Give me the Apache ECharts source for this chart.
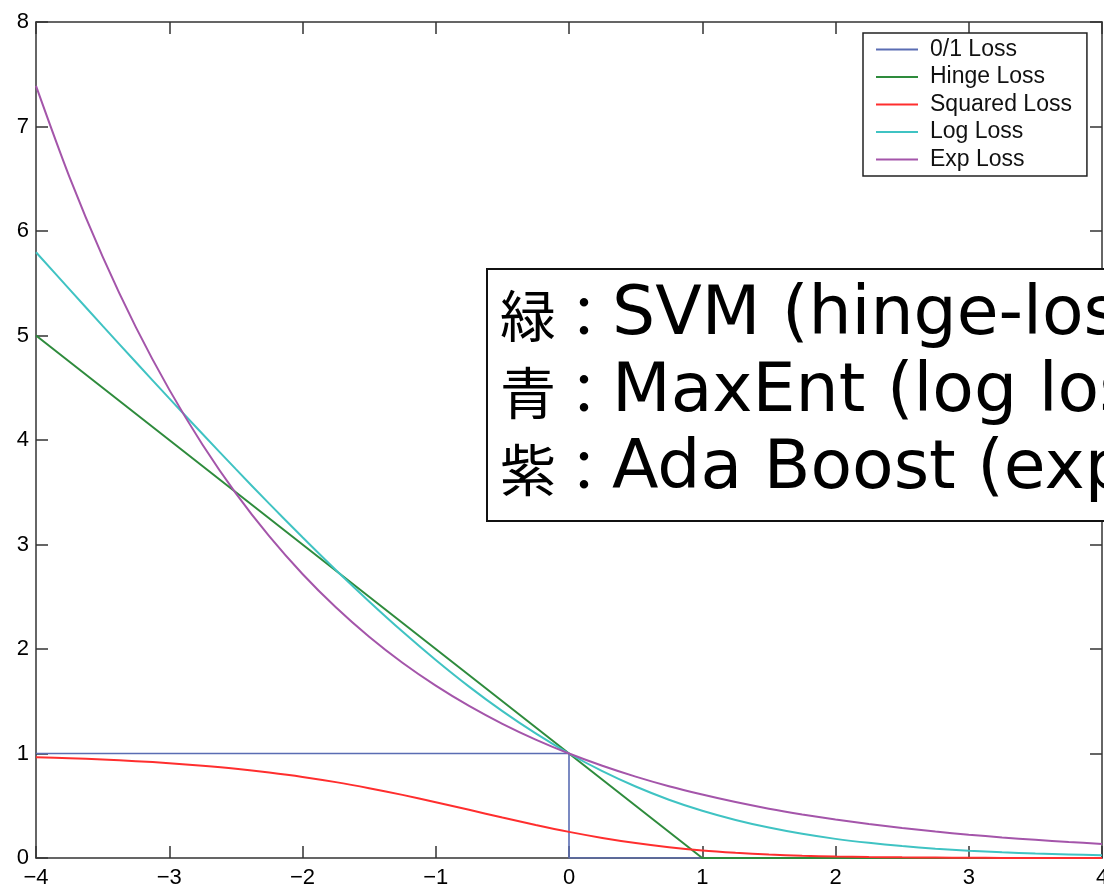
<!DOCTYPE html>
<html>
<head>
<meta charset="utf-8">
<script src="https://cdn.jsdelivr.net/npm/echarts@6/dist/echarts.min.js"></script>
<style>
html,body{margin:0;padding:0;background:#fff;overflow:hidden;}
#c{width:1104px;height:887px;}
</style>
</head>
<body>
<div id="c"></div>
<script>
// ---- data ----
const xs = [-4,-3.75,-3.5,-3.25,-3,-2.75,-2.5,-2.25,-2,-1.75,-1.5,-1.25,-1,-0.75,-0.5,-0.25,0,
            0.25,0.5,0.75,1,1.25,1.5,1.75,2,2.25,2.5,2.75,3,3.25,3.5,3.75,4];
const zeroOneX = [-4, 0, 0, 4];
const zeroOneY = [1, 1, 0, 0];
const hingeX = [-4, 1, 4];
const hingeY = [5, 0, 0];
const squaredY = [0.964,0.955,0.942,0.927,0.907,0.883,0.854,0.818,0.776,0.726,0.668,0.604,0.534,0.461,0.387,0.316,0.25,
                  0.192,0.143,0.103,0.072,0.050,0.033,0.022,0.014,0.009,0.006,0.004,0.002,0.001,0.001,0.001,0.000];
const logY = [5.797,5.444,5.092,4.744,4.398,4.057,3.721,3.391,3.069,2.756,2.455,2.167,1.895,1.640,1.405,1.192,1.0,
              0.831,0.684,0.558,0.452,0.364,0.291,0.231,0.183,0.145,0.114,0.089,0.070,0.055,0.043,0.034,0.026];
const expY = [7.389,6.521,5.755,5.078,4.482,3.955,3.490,3.080,2.718,2.399,2.117,1.868,1.649,1.455,1.284,1.133,1.0,
              0.883,0.779,0.687,0.607,0.535,0.472,0.417,0.368,0.325,0.287,0.253,0.223,0.197,0.174,0.153,0.135];
const xTicks = {min: -4, max: 4, interval: 1};
const yTicks = {min: 0, max: 8, interval: 1};
const seriesNames = ['0/1 Loss','Hinge Loss','Squared Loss','Log Loss','Exp Loss'];
const noteLines = [['緑：','SVM (hinge-loss)'],['青：','MaxEnt (log loss)'],['紫：','Ada Boost (exp loss)']];
// --------------------------------------

const colors = ['#5a6db3','#2e8b3c','#ff2e2e','#3fc3c3','#a455aa'];
const zip = (a,b) => a.map((v,i) => [v, b[i]]);

const axisLineStyle = {color:'#333', width:1.5};
const minus = v => String(v).replace('-', '\u2212');

const chart = echarts.init(document.getElementById('c'), null, {renderer:'canvas'});
chart.setOption({
  animation: false,
  backgroundColor: '#fff',
  grid: {left:36, right:2, top:22, bottom:29, containLabel:false, outerBoundsMode:'none'},
  xAxis: [
    {type:'value', position:'bottom', min:xTicks.min, max:xTicks.max, interval:xTicks.interval,
     axisLine:{show:true, onZero:false, lineStyle:axisLineStyle},
     axisTick:{show:true, inside:true, length:12, lineStyle:axisLineStyle},
     axisLabel:{show:true, margin:9, fontFamily:'Liberation Sans, Arial', fontSize:22, color:'#000', formatter:minus, hideOverlap:false},
     splitLine:{show:false}},
    {type:'value', position:'top', min:xTicks.min, max:xTicks.max, interval:xTicks.interval,
     axisLine:{show:true, onZero:false, lineStyle:axisLineStyle},
     axisTick:{show:true, inside:true, length:12, lineStyle:axisLineStyle},
     axisLabel:{show:false}, splitLine:{show:false}}
  ],
  yAxis: [
    {type:'value', position:'left', min:yTicks.min, max:yTicks.max, interval:yTicks.interval,
     axisLine:{show:true, onZero:false, lineStyle:axisLineStyle},
     axisTick:{show:true, inside:true, length:12, lineStyle:axisLineStyle},
     axisLabel:{show:true, margin:7, fontFamily:'Liberation Sans, Arial', fontSize:22, color:'#000'},
     splitLine:{show:false}},
    {type:'value', position:'right', min:yTicks.min, max:yTicks.max, interval:yTicks.interval,
     axisLine:{show:true, onZero:false, lineStyle:axisLineStyle},
     axisTick:{show:true, inside:true, length:12, lineStyle:axisLineStyle},
     axisLabel:{show:false}, splitLine:{show:false}}
  ],
  legend: {
    orient:'vertical', left:863, top:33,
    data: seriesNames,
    icon:'rect', itemWidth:42, itemHeight:2, itemGap:4.5,
    padding:[5,15,5,13],
    borderColor:'#222', borderWidth:1.5, backgroundColor:'#fff',
    textStyle:{fontFamily:'Liberation Sans, Arial', fontSize:23, lineHeight:23, color:'#111', padding:[0,0,0,7]}
  },
  series: [
    {name:seriesNames[0], type:'line', data:zip(zeroOneX, zeroOneY), showSymbol:false, color:colors[0], lineStyle:{width:1.6}},
    {name:seriesNames[1], type:'line', data:zip(hingeX, hingeY), showSymbol:false, color:colors[1], lineStyle:{width:2}},
    {name:seriesNames[2], type:'line', data:zip(xs, squaredY), showSymbol:false, smooth:0.3, color:colors[2], lineStyle:{width:2}},
    {name:seriesNames[3], type:'line', data:zip(xs, logY), showSymbol:false, smooth:0.3, color:colors[3], lineStyle:{width:2}},
    {name:seriesNames[4], type:'line', data:zip(xs, expY), showSymbol:false, smooth:0.3, color:colors[4], lineStyle:{width:2}}
  ],
  graphic: [
    {type:'rect', left:486, top:268, z:100,
     shape:{width:700, height:252},
     style:{fill:'#fff', stroke:'#111', lineWidth:2}},
    ...noteLines.map((ln, i) => ({
      type:'text', left:500, top:282 + i*77, z:101,
      style:{
        text:'{c|' + ln[0] + '}{l|' + ln[1] + '}',
        rich:{
          c:{fontFamily:'Noto Sans CJK JP', fontSize:56, lineHeight:72, fill:'#000'},
          l:{fontFamily:'DejaVu Sans', fontSize:68, lineHeight:72, fill:'#000'}
        }
      }
    }))
  ]
});
</script>
</body>
</html>
